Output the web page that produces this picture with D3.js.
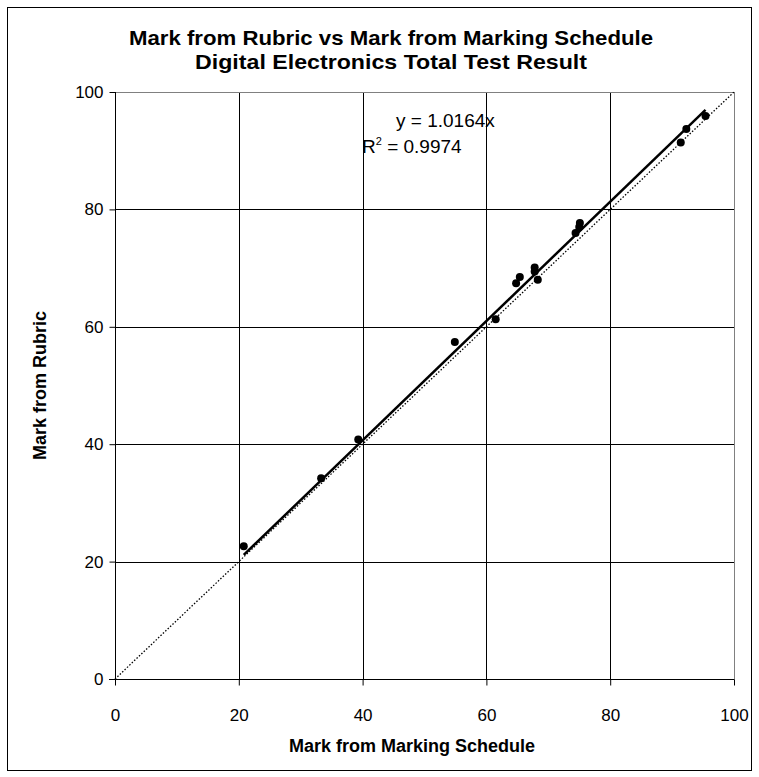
<!DOCTYPE html>
<html>
<head>
<meta charset="utf-8">
<script src="https://cdn.jsdelivr.net/npm/d3@7"></script>
<style>
  html, body { margin: 0; padding: 0; background: #fff; }
  svg { display: block; font-family: "Liberation Sans", Arial, sans-serif; }
</style>
</head>
<body>
<svg id="chart" width="759" height="777"></svg>
<script>
// Marks for each student: marking schedule (x) vs rubric (y)
const scheduleMarks = [20.8, 33.3, 39.3, 54.9, 61.5, 64.8, 65.4, 67.8, 67.8, 68.3, 74.4, 75.0, 75.1, 91.4, 92.3, 95.4];
const rubricMarks   = [22.6, 34.2, 40.8, 57.4, 61.3, 67.4, 68.5, 70.1, 69.4, 68.0, 76.0, 77.0, 77.7, 91.4, 93.7, 95.9];

// Linear trend through the origin
const slope = 1.0164;
const rSquared = 0.9974;

const tickValues = [0, 20, 40, 60, 80, 100];
const titleLines = ["Mark from Rubric vs Mark from Marking Schedule", "Digital Electronics Total Test Result"];
const xTitle = "Mark from Marking Schedule";
const yTitle = "Mark from Rubric";

const svg = d3.select("#chart");
const plot = { left: 115, right: 734, top: 92, bottom: 679 };

// outer frame
svg.append("rect")
  .attr("x", 7.5).attr("y", 7.5)
  .attr("width", 744).attr("height", 763)
  .attr("fill", "#fff").attr("stroke", "#000").attr("stroke-width", 1);

const x = d3.scaleLinear().domain([0, 100]).range([plot.left, plot.right]);
const y = d3.scaleLinear().domain([0, 100]).range([plot.bottom, plot.top]);

// chart title, two lines
const title = svg.append("text")
  .attr("text-anchor", "middle")
  .attr("font-size", 21).attr("font-weight", "bold");
title.append("tspan").attr("x", 391).attr("y", 45)
  .attr("textLength", 524).attr("lengthAdjust", "spacingAndGlyphs").text(titleLines[0]);
title.append("tspan").attr("x", 391).attr("y", 69)
  .attr("textLength", 392).attr("lengthAdjust", "spacingAndGlyphs").text(titleLines[1]);

// grid lines
const grid = svg.append("g");
grid.selectAll("line.v").data(tickValues.slice(1, -1)).join("line")
  .attr("x1", d => Math.round(x(d)) + 0.5).attr("x2", d => Math.round(x(d)) + 0.5)
  .attr("y1", plot.top).attr("y2", plot.bottom)
  .attr("stroke", "#000").attr("stroke-width", 1);
grid.selectAll("line.h").data(tickValues.slice(1, -1)).join("line")
  .attr("y1", d => Math.round(y(d)) + 0.5).attr("y2", d => Math.round(y(d)) + 0.5)
  .attr("x1", plot.left).attr("x2", plot.right)
  .attr("stroke", "#000").attr("stroke-width", 1);

// plot area border (top/right in grey)
svg.append("line")
  .attr("x1", plot.left).attr("x2", plot.right + 0.5)
  .attr("y1", plot.top + 0.5).attr("y2", plot.top + 0.5)
  .attr("stroke", "#808080");
svg.append("line")
  .attr("x1", plot.right + 0.5).attr("x2", plot.right + 0.5)
  .attr("y1", plot.top).attr("y2", plot.bottom)
  .attr("stroke", "#808080");

// axes
const xAxis = d3.axisBottom(x).tickValues(tickValues).tickSize(6).tickPadding(23);
const yAxis = d3.axisLeft(y).tickValues(tickValues).tickSize(6).tickPadding(6);

const gx = svg.append("g")
  .attr("transform", `translate(0,${plot.bottom + 0.5})`)
  .call(xAxis);
const gy = svg.append("g")
  .attr("transform", `translate(${plot.left + 0.5},0)`)
  .call(yAxis);
[gx, gy].forEach(g => {
  g.select(".domain").remove();
  g.selectAll(".tick line").attr("stroke", "#000");
  g.selectAll(".tick text").attr("font-size", 17).attr("fill", "#000")
    .attr("font-family", "'Liberation Sans', Arial, sans-serif");
});
gx.append("line").attr("x1", plot.left - 6).attr("x2", plot.right + 0.5)
  .attr("y1", 0).attr("y2", 0).attr("stroke", "#000");
gy.append("line").attr("y1", plot.top).attr("y2", plot.bottom + 6)
  .attr("x1", 0).attr("x2", 0).attr("stroke", "#000");

// axis titles
svg.append("text")
  .attr("x", 412).attr("y", 752)
  .attr("text-anchor", "middle")
  .attr("font-size", 18).attr("font-weight", "bold")
  .text(xTitle);
svg.append("text")
  .attr("transform", `translate(46,${y(50)}) rotate(-90)`)
  .attr("text-anchor", "middle")
  .attr("font-size", 18).attr("font-weight", "bold")
  .text(yTitle);

// y = x reference line (dotted)
svg.append("line")
  .attr("x1", x(0)).attr("y1", y(0))
  .attr("x2", x(100)).attr("y2", y(100))
  .attr("stroke", "#000").attr("stroke-width", 1.3)
  .attr("stroke-dasharray", "1.5,1.8");

// trend line over the range of the data
const xMin = d3.min(scheduleMarks), xMax = d3.max(scheduleMarks);
svg.append("line")
  .attr("x1", x(xMin)).attr("y1", y(slope * xMin))
  .attr("x2", x(xMax)).attr("y2", y(slope * xMax))
  .attr("stroke", "#000").attr("stroke-width", 2.5);

// data points
svg.append("g").selectAll("circle")
  .data(d3.zip(scheduleMarks, rubricMarks))
  .join("circle")
  .attr("cx", d => x(d[0])).attr("cy", d => y(d[1]))
  .attr("r", 4).attr("fill", "#000");

// equation label
svg.append("text").attr("font-size", 19).attr("fill", "#000")
  .attr("x", 396).attr("y", 127).text(`y = ${slope}x`);
const r2 = svg.append("text").attr("font-size", 19).attr("fill", "#000")
  .attr("x", 362).attr("y", 153);
r2.append("tspan").text("R");
r2.append("tspan").attr("font-size", 11).attr("dy", -8).text("2");
r2.append("tspan").attr("dy", 8).text(` = ${rSquared}`);
</script>
</body>
</html>
